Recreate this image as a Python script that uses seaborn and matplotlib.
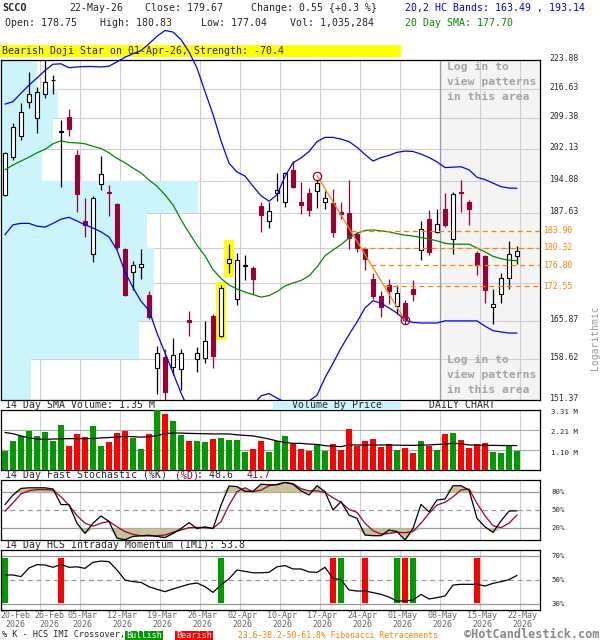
import numpy as np
import pandas as pd
import matplotlib
matplotlib.use("Agg")
import matplotlib.pyplot as plt
from matplotlib.patches import Rectangle
from matplotlib.ticker import NullLocator, FixedLocator
from matplotlib.transforms import ScaledTranslation, blended_transform_factory
import seaborn as sns

# ---------------- data ----------------
ticker = "SCCO"
first_day, last_day = "2026-02-20", "2026-05-22"
market_holidays = ["2026-04-03"]

opens = [191.7, 200.3, 205.2, 213.4, 209.5, 215.2, 218.7, 206.1, 209.6, 200.8,
         186.1, 179.0, 194.1, 192.4, 189.7, 180.2, 175.4, 176.5, 170.9, 157.1,
         159.1, 157.2, 156.9, 165.9, 158.6, 158.8, 166.7, 163.0, 177.3, 170.0,
         176.7, 176.2, 189.3, 186.0, 192.1, 190.1, 197.3, 190.2, 192.2, 192.6,
         190.2, 189.9, 188.0, 187.7, 183.3, 180.1, 174.0, 170.6, 172.8, 168.6,
         169.3, 172.0, 180.0, 186.5, 183.7, 188.6, 182.1, 192.3, 190.2, 179.2,
         178.7, 168.5, 171.0, 174.2, 178.75]
highs = [201.3, 208.1, 213.0, 220.9, 217.1, 224.5, 220.1, 208.9, 211.6, 201.9,
         191.0, 191.4, 200.5, 193.9, 189.9, 180.4, 177.7, 180.1, 171.7, 161.1,
         160.5, 162.6, 160.5, 167.7, 160.9, 165.8, 167.2, 172.7, 181.2, 179.2,
         178.9, 176.7, 190.2, 190.2, 196.6, 196.9, 199.2, 194.6, 193.3, 195.0,
         192.6, 193.0, 190.2, 195.0, 183.7, 180.5, 175.2, 171.6, 174.0, 172.8,
         169.9, 173.8, 185.9, 188.3, 188.6, 192.2, 192.3, 195.0, 190.6, 179.7,
         178.8, 172.0, 175.2, 181.8, 180.83]
lows = [191.5, 199.6, 204.2, 211.8, 205.9, 214.2, 215.4, 193.5, 205.2, 187.9,
        182.7, 177.5, 192.8, 187.0, 180.2, 170.6, 171.9, 174.0, 166.2, 152.4,
        151.4, 155.8, 153.2, 163.0, 156.3, 158.0, 157.0, 162.8, 175.1, 168.8,
        173.7, 171.0, 183.7, 184.5, 190.4, 189.0, 193.2, 187.5, 187.0, 188.9,
        188.5, 182.7, 186.5, 180.1, 179.5, 175.9, 170.1, 166.5, 169.0, 167.1,
        165.3, 169.6, 177.9, 178.9, 183.5, 184.7, 179.0, 188.0, 185.2, 174.7,
        169.3, 165.3, 169.3, 172.0, 177.04]
closes = [201.1, 207.2, 210.8, 215.2, 215.7, 218.4, 218.8, 206.2, 206.7, 191.8,
          185.1, 190.9, 196.4, 192.1, 180.5, 170.9, 176.9, 177.1, 166.5, 159.8,
          152.7, 159.5, 159.8, 165.5, 159.7, 162.1, 159.2, 172.2, 178.1, 177.8,
          176.8, 174.0, 187.2, 188.2, 192.8, 196.6, 193.4, 189.4, 188.3, 194.3,
          190.9, 183.7, 187.6, 182.3, 180.4, 178.1, 170.6, 168.5, 171.7, 171.2,
          166.0, 171.0, 184.2, 179.5, 185.3, 185.2, 191.9, 192.1, 188.5, 176.9,
          171.9, 169.1, 174.2, 179.12, 179.67]
last_volume_shares = 1035284
volume_m = [1.06, 1.60, 1.89, 2.17, 1.87, 2.10, 1.62, 2.48, 1.32, 1.99,
            1.82, 2.43, 1.32, 1.54, 2.04, 2.17, 1.76, 1.16, 1.99, 3.31,
            3.09, 2.70, 1.93, 1.62, 1.60, 1.54, 1.73, 1.76, 1.67, 1.67,
            0.99, 1.18, 1.62, 0.99, 1.58, 1.87, 1.45, 1.16, 1.05, 1.42,
            1.06, 1.43, 1.10, 2.26, 1.34, 1.60, 1.71, 1.27, 1.42, 1.10,
            1.21, 0.94, 1.60, 1.34, 1.10, 1.99, 2.04, 1.65, 1.21, 1.42,
            1.49, 0.99, 0.94, 1.34, 1.035]
vol_sma_m = [2.07, 2.00, 1.88, 1.77, 1.71, 1.69, 1.71, 1.72, 1.73, 1.73,
             1.73, 1.74, 1.77, 1.79, 1.82, 1.85, 1.84, 1.81, 1.84, 1.89,
             2.01, 2.04, 2.04, 2.02, 2.01, 2.00, 1.99, 1.99, 1.99, 1.94,
             1.91, 1.88, 1.80, 1.71, 1.60, 1.52, 1.47, 1.47, 1.43, 1.41,
             1.34, 1.31, 1.29, 1.38, 1.38, 1.38, 1.38, 1.38, 1.38, 1.37,
             1.36, 1.36, 1.37, 1.38, 1.41, 1.43, 1.47, 1.45, 1.38, 1.37,
             1.36, 1.36, 1.35, 1.35, 1.35]
hc_upper = [212.8, 213.4, 215.5, 217.5, 219.3, 221.2, 222.8, 222.9, 221.9, 222.1,
            222.2, 222.2, 222.1, 222.3, 223.4, 224.6, 225.5, 226.3, 228.1, 230.1,
            231.6, 231.2, 229.2, 226.0, 221.8, 215.9, 210.3, 204.0, 198.8, 196.8,
            195.9, 193.6, 191.5, 190.3, 191.7, 195.8, 198.9, 200.0, 201.5, 203.8,
            204.8, 204.8, 204.4, 203.8, 202.5, 200.8, 199.3, 200.1, 200.6, 201.3,
            201.6, 201.5, 200.9, 200.1, 199.1, 197.8, 197.9, 198.0, 197.3, 195.6,
            195.1, 194.3, 193.5, 193.2, 193.14]
hc_lower = [183.1, 185.2, 185.5, 185.5, 184.9, 184.7, 185.5, 186.4, 186.8, 186.0,
            185.2, 184.5, 183.7, 182.6, 179.9, 175.4, 172.3, 169.6, 167.8, 163.5,
            159.8, 156.2, 152.6, 149.6, 148.0, 147.0, 146.5, 146.5, 147.0, 147.5,
            148.5, 150.5, 152.1, 152.5, 151.7, 151.0, 150.5, 150.6, 151.2, 152.2,
            155.3, 157.9, 160.7, 163.2, 165.6, 168.3, 169.7, 169.2, 168.3, 167.3,
            165.95, 165.5, 165.4, 165.4, 165.4, 165.8, 165.8, 165.8, 165.8, 165.8,
            164.8, 163.95, 163.7, 163.5, 163.49]
sma20 = [197.3, 198.4, 199.3, 200.2, 201.2, 202.0, 203.3, 204.0, 203.6, 203.5,
         203.3, 202.7, 202.2, 201.2, 199.9, 198.9, 197.7, 196.6, 195.0, 193.6,
         191.7, 189.5, 186.3, 183.5, 180.9, 178.7, 175.9, 174.1, 172.8, 172.0,
         171.4, 170.9, 170.4, 170.7, 171.5, 172.6, 173.2, 173.7, 174.6, 176.4,
         178.7, 179.9, 181.0, 182.4, 183.4, 184.0, 184.1, 183.9, 183.7, 183.3,
         183.0, 182.8, 182.5, 182.2, 181.8, 181.3, 181.1, 181.1, 181.1, 180.3,
         179.5, 178.6, 178.1, 177.8, 177.70]
stoch_k = [59, 75, 86, 87, 87, 87, 85, 59, 59, 28,
           11, 28, 40, 31, 3, 0.5, 6, 7, 8, 6,
           4, 11, 19, 29, 19, 22, 19, 58, 90, 89,
           81, 81, 93, 92, 92, 96, 93, 82, 75, 90.5,
           80.5, 50, 64, 41.7, 36, 8.3, 7.2, 7.2, 16.7, 14,
           0, 19.4, 59.4, 47, 66.7, 68.3, 90.5, 90.5, 83.3, 36,
           22, 12.8, 31.7, 48.3, 48.6]
stoch_d = [48, 62, 77, 82, 84, 84, 83, 72, 58, 40.5,
           28, 23, 28, 31, 22, 14, 9.5, 7, 6.7, 7.2,
           8.3, 12.8, 16.7, 20.6, 21, 20.6, 19.4, 30.5, 58, 80.5,
           87, 80.5, 83, 90.5, 92.8, 96, 94, 85.6, 82, 82,
           79, 70.5, 62.8, 51, 46, 28, 15.5, 9.9, 11, 12.8,
           12.2, 14.4, 28, 44.4, 58.3, 62.8, 72, 83.3, 85, 61,
           40.5, 23.9, 20.6, 28, 41.7]
imi = [54.2, 54.2, 52.8, 60, 62.8, 62.5, 60.6, 63, 60.6, 61,
       59.7, 64.7, 65.8, 65.3, 58.3, 50, 48.6, 48, 44.4, 42.2,
       40.3, 42.5, 44.5, 46.5, 47.5, 44.5, 39.7, 45.8, 51, 58.3,
       57.2, 56, 56, 56.4, 61, 62, 59.2, 59.2, 56.7, 56.4,
       60.6, 51.4, 50.3, 41.7, 40.8, 40.8, 39.5, 38, 35.8, 32.5,
       32.5, 33.3, 38, 34.2, 35.3, 36.7, 45.8, 46.4, 46.4, 46.4,
       45, 47.2, 48.6, 50.3, 53.8]
bullish_cross = [0, 27, 42, 49, 51]
bearish_cross = [7, 41, 45, 50, 59]
pattern_days = [27, 28]
pattern_text = "Bearish Doji Star on 01-Apr-26, Strength: -70.4"
price_levels = [151.37, 158.62, 165.87, 173.13, 180.38, 187.63,
                194.88, 202.13, 209.38, 216.63, 223.88]
vbp_rel = [30, 138, 153, 153, 146, 197, 41, 52, 57, 36]   # bottom bin to top bin
fib_levels = [172.55, 176.80, 180.32, 183.90]
fib_high_day, fib_high = 39, 196.0
fib_low_day, fib_low = 50, 165.9
vol_ticks = [1.10, 2.21, 3.31]
stoch_ticks = [20, 50, 80]
imi_ticks = [30, 50, 70]

# ---------------- style ----------------
sns.set_style("white")
plt.rcParams["font.family"] = ["DejaVu Sans Mono", "DejaVu Sans"]

MAROON = "#990033"
BLUE = "#0000ff"
SMA_GREEN = "#008800"
VOL_UP = "#009900"
VOL_DN = "#ff0000"
ORANGE = "#ff8000"
CYAN = "#cbf4fc"
KHAKI = "#c9c197"
GRID = "#cfcfcf"
REF = "#999999"

opens = np.array(opens); highs = np.array(highs)
lows = np.array(lows); closes = np.array(closes)
n = len(closes)
idx = np.arange(n)
hol = set(pd.to_datetime(market_holidays))
dates = [d for d in pd.bdate_range(first_day, last_day) if d not in hol]
up = closes >= opens

W, H = 600, 640
fig = plt.figure(figsize=(W / 100, H / 100), dpi=100)
fig.patch.set_facecolor("white")


def add_ax(x0, y0, x1, y1):
    return fig.add_axes([x0 / W, 1 - y1 / H, (x1 - x0) / W, (y1 - y0) / H])


def ftext(x, y, s, **kw):
    kw.setdefault("va", "center")
    kw.setdefault("ha", "left")
    kw.setdefault("size", 7.1)
    return fig.text(x / W, 1 - y / H, s, **kw)


def fbox(x0, y0, x1, y1, color, z=-1):
    fig.add_artist(Rectangle((x0 / W, 1 - y1 / H), (x1 - x0) / W, (y1 - y0) / H,
                             transform=fig.transFigure, color=color, lw=0, zorder=z))


XMIN, XMAX = -0.5, 66.875
label_days = [0] + list(range(n - 1, -1, -5))[::-1]
grid_x = np.array(label_days[1:]) + 0.375

ax = add_ax(1, 60, 540, 400)
ax_v = add_ax(1, 410, 540, 470)
ax_s = add_ax(1, 480, 540, 540)
ax_i = add_ax(1, 550, 540, 610)
for a in (ax, ax_v, ax_s, ax_i):
    a.set_facecolor("white")
    a.set_xlim(XMIN, XMAX)
    a.set_xticks(grid_x)
    a.tick_params(axis="x", length=0, labelbottom=False)
    a.tick_params(axis="y", length=0, labelleft=False, labelright=True,
                  left=False, right=False)
    a.grid(True, axis="x", color=GRID, lw=0.8)
    a.set_axisbelow(True)
    for s in a.spines.values():
        s.set_color("black")
        s.set_linewidth(0.9)

# ---------------- main price panel ----------------
ax.set_yscale("log")
ax.yaxis.set_major_locator(FixedLocator(price_levels))
ax.yaxis.set_minor_locator(NullLocator())
ax.set_yticklabels(["" if min(abs(p - f) for f in fib_levels) < 1.0 else f"{p:.2f}"
                    for p in price_levels])
ax.grid(True, axis="y", color=GRID, lw=0.8)
ax.tick_params(axis="y", pad=7, labelsize=5.9)
for lab in ax.get_yticklabels():
    lab.set_transform(lab.get_transform() + ScaledTranslation(0, 0.025, fig.dpi_scale_trans))

shade_from = dates.index(pd.Timestamp("2026-05-08")) + 0.375
ax.axvspan(shade_from, XMAX, color="#f4f4f4", lw=0, zorder=0.2)
ax.axvline(shade_from, color="#9a9a9a", lw=0.9, zorder=0.7)

edges = np.array(price_levels)
vbp = np.array(vbp_rel, float)
VBP_SPAN = 24.6
ax.barh(edges[:-1], vbp / vbp.max() * VBP_SPAN, height=np.diff(edges), left=XMIN,
        align="edge", color=CYAN, lw=0, zorder=0.6)

for i in pattern_days:
    lo, hi = lows[i] / 1.004, highs[i] * 1.004
    ax.add_patch(Rectangle((i - 0.68, lo), 1.36, hi - lo, color="#ffff00", lw=0, zorder=2))

cols = np.where(up, "black", MAROON)
ax.vlines(idx, lows, highs, colors=cols, lw=0.9, zorder=3)
body_lo = np.minimum(opens, closes)
body_h = np.maximum(np.abs(closes - opens), 0.08)
ax.bar(idx, body_h, bottom=body_lo, width=0.62, color=np.where(up, "white", MAROON),
       edgecolor=cols, lw=0.8, zorder=4)

sns.lineplot(x=idx, y=hc_upper, ax=ax, color=BLUE, lw=0.9, estimator=None, sort=False,
             zorder=6)
ax.lines[-1].set_clip_on(False)   # the upper band rises above the price frame
sns.lineplot(x=idx, y=hc_lower, ax=ax, color=BLUE, lw=0.9, estimator=None, sort=False,
             zorder=5)
sns.lineplot(x=idx, y=sma20, ax=ax, color=SMA_GREEN, lw=0.9, estimator=None, sort=False,
             zorder=5)

# Fibonacci retracement
ax.plot([fib_high_day, fib_low_day], [fib_high, fib_low], color=ORANGE, lw=0.9, zorder=5)
span = np.log(fib_high / fib_low)
for lv in fib_levels:
    t = np.log(fib_high / lv) / span
    x0 = fib_high_day + t * (fib_low_day - fib_high_day)
    ax.hlines(lv, x0, XMAX, colors=ORANGE, lw=0.9, linestyles=(0, (4, 3)), zorder=5)
    ax.text(1.008, lv, f"{lv:.2f}", transform=blended_transform_factory(ax.transAxes, ax.transData),
            color=ORANGE, size=5.9, va="center", ha="left", clip_on=False)
for d, p in ((fib_high_day, fib_high), (fib_low_day, fib_low)):
    ax.plot([d], [p], marker="o", ms=6, mfc="none", mec=MAROON, mew=0.9, zorder=7)

ax.set_ylim(price_levels[0], price_levels[-1])
ax.set_xlim(XMIN, XMAX)
ax.set_xlabel(""); ax.set_ylabel("")

for y0 in (67, 360):
    for k, line in enumerate(["Log in to", "view patterns", "in this area"]):
        ftext(447, y0 + 15 * k, line, color="#a3a3a3", weight="bold", size=8.2)
ftext(595, 338, "Logarithmic", color=REF, rotation=90, ha="center", size=7)

# ---------------- volume panel ----------------
ax_v.bar(idx, volume_m, width=0.66, color=np.where(up, VOL_UP, VOL_DN), lw=0, zorder=3)
sns.lineplot(x=idx, y=vol_sma_m, ax=ax_v, color="black", lw=0.9, estimator=None,
             sort=False, zorder=4)
ax_v.set_ylim(0, vol_ticks[-1])
ax_v.set_yticks(vol_ticks)
ax_v.set_yticklabels([f"{v:.2f} M" for v in vol_ticks])
ax_v.grid(True, axis="y", color="#aaaaaa", lw=0.8)
ax_v.tick_params(axis="y", pad=8, labelsize=5.3)
for lab in ax_v.get_yticklabels():
    lab.set_transform(lab.get_transform() + ScaledTranslation(0, -0.02, fig.dpi_scale_trans))
ax_v.set_xlim(XMIN, XMAX)
ax_v.set_xlabel(""); ax_v.set_ylabel("")

# ---------------- stochastic panel ----------------
K = np.array(stoch_k, float); D = np.array(stoch_d, float)
ext_hi = np.maximum(K, D); ext_lo = np.minimum(K, D)
ax_s.fill_between(idx, 80, np.maximum(ext_hi, 80), color=KHAKI, lw=0, zorder=2)
ax_s.fill_between(idx, 20, np.minimum(ext_lo, 20), color=KHAKI, lw=0, zorder=2)
for lv in stoch_ticks:
    ax_s.axhline(lv, color=REF, lw=0.9, ls=(0, (4, 3)) if lv == 50 else "-", zorder=1)
sns.lineplot(x=idx, y=K, ax=ax_s, color="black", lw=0.9, estimator=None, sort=False, zorder=4)
sns.lineplot(x=idx, y=D, ax=ax_s, color=MAROON, lw=0.9, estimator=None, sort=False, zorder=3)
ax_s.set_ylim(0, 100)
ax_s.set_yticks(stoch_ticks)
ax_s.set_yticklabels([f"{v}%" for v in stoch_ticks])
ax_s.tick_params(axis="y", pad=8, labelsize=5.3)
ax_s.set_xlim(XMIN, XMAX)
ax_s.set_xlabel(""); ax_s.set_ylabel("")

# ---------------- IMI panel ----------------
for lv in imi_ticks:
    ax_i.axhline(lv, color=REF, lw=0.9, ls=(0, (4, 3)) if lv == 50 else "-", zorder=1)
ax_i.bar(bullish_cross, 37, bottom=31, width=0.75, color=VOL_UP, lw=0, zorder=2)
ax_i.bar(bearish_cross, 37, bottom=31, width=0.75, color=VOL_DN, lw=0, zorder=2)
sns.lineplot(x=idx, y=imi, ax=ax_i, color="black", lw=0.9, estimator=None, sort=False, zorder=4)
ax_i.set_ylim(25, 75)
ax_i.set_yticks(imi_ticks)
ax_i.set_yticklabels([f"{v}%" for v in imi_ticks])
ax_i.tick_params(axis="y", pad=8, labelsize=5.3)
ax_i.set_xlim(XMIN, XMAX)
ax_i.set_xlabel(""); ax_i.set_ylabel("")

tr = blended_transform_factory(ax_i.transData, fig.transFigure)
for i in label_days:
    xpos = {0: 1.25, 4: 5.5}.get(i, i + 0.625)
    ax_i.text(xpos, 1 - 616 / H, dates[i].strftime("%d-%b"), transform=tr, ha="center",
              va="center", size=6, color="#666666", clip_on=False)
    ax_i.text(xpos, 1 - 624.5 / H, dates[i].strftime("%Y"), transform=tr, ha="center",
              va="center", size=6, color="#666666", clip_on=False)

# ---------------- header and strips ----------------
chg = closes[-1] - closes[-2]
pct = chg / closes[-2] * 100
ftext(2, 8, ticker, weight="bold", size=7.3)
ftext(69, 8, dates[-1].strftime("%d-%b-%y"))
ftext(145, 8, f"Close: {closes[-1]:.2f}")
ftext(251, 8, f"Change: {chg:.2f} {{{pct:+.1f} %}}")
ftext(5, 23, f"Open: {opens[-1]:.2f}")
ftext(100, 23, f"High: {highs[-1]:.2f}")
ftext(201, 23, f"Low: {lows[-1]:.2f}")
ftext(290, 23, f"Vol: {last_volume_shares:,}")
ftext(405, 8, f"20,2 HC Bands: {hc_lower[-1]:.2f} , {hc_upper[-1]:.2f}", color=BLUE)
ftext(405, 23, f"20 Day SMA: {sma20[-1]:.2f}", color=SMA_GREEN)

fbox(0, 45, 401, 57, "#ffff00")
ftext(2, 51.5, pattern_text)

ftext(5, 405, f"14 Day SMA Volume: {vol_sma_m[-1]:.2f} M")
fbox(273, 400.5, 401, 410, CYAN, z=2)
ftext(337, 405, "Volume By Price", ha="center", zorder=3)
ftext(462, 405, "DAILY CHART", ha="center")

ftext(5, 475, "14 Day Fast Stochastic (%K)")
ftext(175, 475, "(%D)", color=MAROON)
ftext(197, 475, f": {K[-1]:.1f}")
ftext(247, 475, f"{D[-1]:.1f}", color=MAROON)
ftext(5, 545, f"14 Day HCS Intraday Momentum (IMI): {imi[-1]:.1f}")

ftext(2, 635, "% K - HCS IMI Crossover,", size=6.1)
fbox(125, 630.5, 163, 639.5, VOL_UP, z=2)
ftext(144, 635, "Bullish", ha="center", color="white", size=6.1, zorder=3)
fbox(175, 630.5, 213, 639.5, VOL_DN, z=2)
ftext(194, 635, "Bearish", ha="center", color="white", size=6.1, zorder=3)
ftext(238, 635, "23.6-38.2-50-61.8% Fibonacci Retracements", color=ORANGE, size=5.8)
ftext(599, 634, "\u00a9HotCandlestick.com", ha="right", color="#888888", weight="bold", size=8.6)

fig.savefig("out.png", dpi=100)
